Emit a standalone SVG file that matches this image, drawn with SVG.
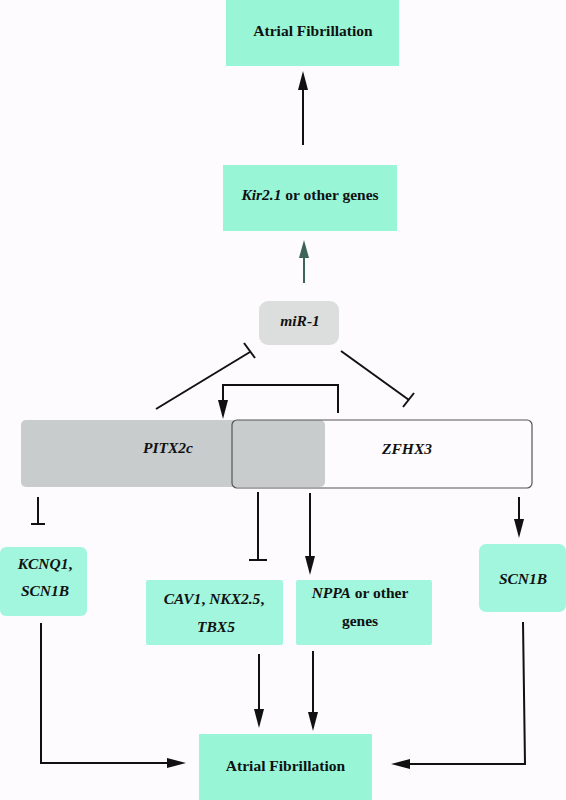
<svg xmlns="http://www.w3.org/2000/svg" width="566" height="800" viewBox="0 0 566 800">
<defs>
<style>
.t{font-family:"Liberation Serif","Times New Roman",serif;font-weight:bold;font-size:15.5px;fill:#111;text-anchor:middle}
.i{font-style:italic}
.box{fill:#98f6d7}
.box2{fill:#a2f6dd}
.ln{fill:none;stroke:#111;stroke-width:2}
</style>
<marker id="ah" markerUnits="userSpaceOnUse" markerWidth="20" markerHeight="12" refX="0" refY="5" orient="auto" viewBox="0 0 20 10">
<path d="M0,0 L19,5 L0,10 z" fill="#111"/>
</marker>
<marker id="ahg" markerUnits="userSpaceOnUse" markerWidth="20" markerHeight="12" refX="0" refY="5" orient="auto" viewBox="0 0 20 10">
<path d="M0,0 L18,5 L0,10 z" fill="#3c6457"/>
</marker>
</defs>
<rect width="566" height="800" fill="#fdfbfd"/>

<g id="af-top">
<rect class="box" x="226" y="0" width="173" height="66"/>
<text class="t" x="313" y="36">Atrial Fibrillation</text>
</g>
<g id="kir">
<rect class="box" x="223" y="165" width="174" height="66"/>
<text class="t" x="310" y="200"><tspan class="i">Kir2.1</tspan> or other genes</text>
</g>
<g id="mir1">
<rect x="259" y="301" width="80" height="44" rx="9" fill="#dcdedd"/>
<text class="t i" x="300" y="326">miR-1</text>
</g>
<g id="pitx2c">
<rect x="21" y="420" width="304" height="67" rx="5" fill="#c9cccc"/>
<text class="t i" x="168" y="453">PITX2c</text>
</g>
<g id="zfhx3">
<rect x="232" y="420" width="300" height="68" rx="5" fill="none" stroke="#555" stroke-width="1.2"/>
<text class="t i" x="407" y="454">ZFHX3</text>
</g>
<g id="kcnq1">
<rect class="box2" x="0" y="547" width="87" height="69" rx="6"/>
<text class="t i" x="45" y="569">KCNQ1<tspan font-style="normal">,</tspan></text>
<text class="t i" x="45" y="596">SCN1B</text>
</g>
<g id="cav1">
<rect class="box2" x="146" y="580" width="137" height="65" rx="2"/>
<text class="t" x="214" y="604"><tspan class="i">CAV1</tspan>, <tspan class="i">NKX2.5</tspan>,</text>
<text class="t i" x="216" y="632">TBX5</text>
</g>
<g id="nppa">
<rect class="box2" x="296" y="580" width="136" height="65" rx="2"/>
<text class="t" x="360" y="598"><tspan class="i">NPPA</tspan> or other</text>
<text class="t" x="360" y="626">genes</text>
</g>
<g id="scn1b">
<rect class="box2" x="479" y="544" width="87" height="68" rx="7"/>
<text class="t i" x="523" y="584">SCN1B</text>
</g>
<g id="af-bottom">
<rect class="box" x="199" y="734" width="173" height="66"/>
<text class="t" x="285.5" y="771">Atrial Fibrillation</text>
</g>

<g id="connectors">
<line class="ln" x1="303" y1="145" x2="303" y2="90" marker-end="url(#ah)"/>
<line x1="304" y1="283" x2="304" y2="258" stroke="#3c6457" stroke-width="2" marker-end="url(#ahg)"/>
<line class="ln" x1="156" y1="409" x2="250" y2="352"/>
<line class="ln" x1="244" y1="343" x2="255" y2="358"/>
<line class="ln" x1="341" y1="351" x2="409" y2="400"/>
<line class="ln" x1="403" y1="407" x2="414" y2="393"/>
<path class="ln" d="M338,413 V385 H223 V400" marker-end="url(#ah)"/>
<line class="ln" x1="38" y1="497" x2="38" y2="524"/>
<line class="ln" x1="31" y1="524" x2="45" y2="524"/>
<line class="ln" x1="258" y1="492" x2="258" y2="560"/>
<line class="ln" x1="249" y1="560" x2="267" y2="560"/>
<line class="ln" x1="310" y1="493" x2="310" y2="556" marker-end="url(#ah)"/>
<line class="ln" x1="519" y1="497" x2="519" y2="519" marker-end="url(#ah)"/>
<line class="ln" x1="259" y1="654" x2="259" y2="709" marker-end="url(#ah)"/>
<line class="ln" x1="313" y1="651" x2="313" y2="712" marker-end="url(#ah)"/>
<path class="ln" d="M41,623 V763 H167" marker-end="url(#ah)"/>
<path class="ln" d="M523,622 L525,764 H410" marker-end="url(#ah)"/>
</g>
</svg>
